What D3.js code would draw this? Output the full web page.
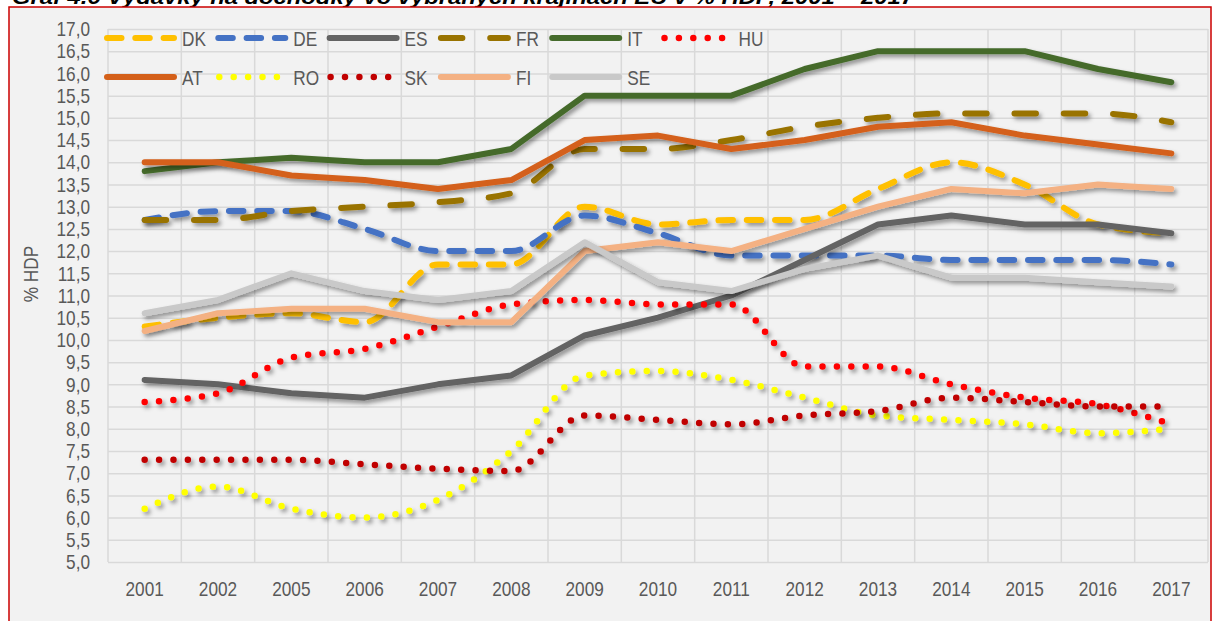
<html>
<head>
<title>Graf 4.6</title>
<script src="https://d3js.org/d3.v7.min.js"></script>
<style>
body { margin: 0; background: #fff; }
text { font-family: "Liberation Sans", Arial, sans-serif; fill: #595959; }
</style>
</head>
<body>
<div id="plot"></div>

<script>

var width = 1215;
var height = 621;

var years = ["2001","2002","2005","2006","2007","2008","2009","2010","2011","2012","2013","2014","2015","2016","2017"];

var DK = [10.3,10.5,10.6,10.4,11.7,11.7,13.0,12.6,12.7,12.7,13.4,14.0,13.5,12.6,12.4];
var DE = [12.7,12.9,12.9,12.5,12.0,12.0,12.8,12.4,11.9,11.9,11.9,11.8,11.8,11.8,11.7];
var ES = [9.1,9.0,8.8,8.7,9.0,9.2,10.1,10.5,11.0,11.8,12.6,12.8,12.6,12.6,12.4];
var FR = [12.7,12.7,12.9,13.0,13.1,13.3,14.3,14.3,14.5,14.8,15.0,15.1,15.1,15.1,14.9];
var IT = [13.8,14.0,14.1,14.0,14.0,14.3,15.5,15.5,15.5,16.1,16.5,16.5,16.5,16.1,15.8];
var HU = [8.6,8.8,9.6,9.8,10.3,10.8,10.9,10.8,10.8,9.4,9.4,9.0,8.7,8.55,8.1];
var AT = [14.0,14.0,13.7,13.6,13.4,13.6,14.5,14.6,14.3,14.5,14.8,14.9,14.6,14.4,14.2];
var RO = [6.2,6.7,6.2,6.0,6.4,7.5,9.2,9.3,9.1,8.7,8.3,8.2,8.1,7.9,8.0];
var SK = [7.3,7.3,7.3,7.2,7.1,7.05,8.3,8.2,8.1,8.3,8.4,8.7,8.6,8.5,8.5];
var FI = [10.2,10.6,10.7,10.7,10.4,10.4,12.0,12.2,12.0,12.5,13.0,13.4,13.3,13.5,13.4];
var SE = [10.6,10.9,11.5,11.1,10.9,11.1,12.2,11.3,11.1,11.6,11.9,11.4,11.4,11.3,11.2];

var yTicks = d3.range(5, 17.01, 0.5);

// series in legend / drawing order; style = solid, dash, longdash, dot
var series = [
	{ name: "DK", values: DK, color: "#ffc000", style: "dash" },
	{ name: "DE", values: DE, color: "#4472c4", style: "dash" },
	{ name: "ES", values: ES, color: "#636363", style: "solid" },
	{ name: "FR", values: FR, color: "#997300", style: "longdash" },
	{ name: "IT", values: IT, color: "#456b2c", style: "solid" },
	{ name: "HU", values: HU, color: "#ff0000", style: "dot" },
	{ name: "AT", values: AT, color: "#d4601a", style: "solid" },
	{ name: "RO", values: RO, color: "#ffff00", style: "dot" },
	{ name: "SK", values: SK, color: "#c00000", style: "dot" },
	{ name: "FI", values: FI, color: "#f4b183", style: "solid" },
	{ name: "SE", values: SE, color: "#c9c9c9", style: "solid" }
];

var dashes = { solid: null, dash: "14.5,13.8", longdash: "21.5,27.8", dot: "0,14.4" };
var lineWidth = 6;
var fontSize = "21px";
// Arial Narrow look: regular sans squeezed horizontally
var narrow = 0.82;

var svg = d3.select("#plot").append("svg").attr("width", width).attr("height", height);

var filter = svg.append("defs").append("filter").attr("id", "shadow")
.attr("x", "-5%").attr("y", "-20%").attr("width", "110%").attr("height", "140%");
filter.append("feDropShadow").attr("dx", 2.5).attr("dy", 3).attr("stdDeviation", 2)
.attr("flood-color", "#000").attr("flood-opacity", 0.4);

// title, cut off at the top edge as in the original
svg.append("text")
.attr("x", 12).attr("y", 4)
.attr("textLength", 902).attr("lengthAdjust", "spacingAndGlyphs")
.style("font-weight", "bold").style("font-style", "italic")
.style("font-size", "20px").style("fill", "#000")
.text("Graf 4.6 Výdavky na dôchodky vo vybraných krajinách EÚ v % HDP, 2001 – 2017");

svg.append("rect")
.attr("x", 9).attr("y", 7).attr("width", 1202).attr("height", 700)
.style("fill", "#f2f2f2").style("stroke", "#cc0000").style("stroke-width", 1.5);

var xScale = d3.scaleBand().domain(years).range([108, 1208]);
var yScale = d3.scaleLinear().domain([5, 17]).range([562, 29]);
var cx = function (year) { return xScale(year) + xScale.bandwidth() / 2; };

var locale = d3.formatLocale({ decimal: ",", thousands: " ", grouping: [3], currency: ["", " €"] });
var fmt = locale.format(".1f");

// horizontal grid + y labels
var yAxis = svg.append("g").attr("transform", "translate(108,0)")
.call(d3.axisLeft(yScale).tickValues(yTicks).tickFormat(fmt).tickSize(-1100).tickPadding(18));
yAxis.select(".domain").remove();
yAxis.selectAll("line").style("stroke", "#d9d9d9").style("stroke-width", 1.5);
yAxis.selectAll("text")
.attr("x", -18 / narrow)
.attr("transform", "scale(" + narrow + ",1)")
.style("font-size", fontSize).style("fill", "#595959");

// vertical grid at category boundaries
svg.append("g").selectAll("line")
.data(d3.range(years.length + 1))
.enter().append("line")
.attr("x1", function (i) { return 108 + i * xScale.step(); })
.attr("x2", function (i) { return 108 + i * xScale.step(); })
.attr("y1", yScale(17)).attr("y2", yScale(5))
.style("stroke", "#d9d9d9").style("stroke-width", 1.5);

var xAxis = svg.append("g").attr("transform", "translate(0,562)")
.call(d3.axisBottom(xScale).tickSize(0).tickPadding(19));
xAxis.select(".domain").remove();
xAxis.selectAll("text")
.attr("transform", "scale(" + narrow + ",1)")
.style("font-size", fontSize).style("fill", "#595959");

svg.append("text")
.attr("transform", "translate(38,274) rotate(-90) scale(" + narrow + ",1)")
.attr("text-anchor", "middle")
.style("font-size", fontSize)
.text("% HDP");

// lines: solid ones straight, dashed and dotted ones smoothed
var line = function (s) {
	var curve = s.style == "solid" ? d3.curveLinear : d3.curveMonotoneX;
	return d3.line()
	.x(function (d, i) { return cx(years[i]); })
	.y(function (d) { return yScale(d); })
	.curve(curve)(s.values);
};

svg.append("g").selectAll("path")
.data(series)
.enter().append("path")
.attr("d", line)
.attr("filter", "url(#shadow)")
.style("fill", "none")
.style("stroke", function (s) { return s.color; })
.style("stroke-width", function (s) { return s.style == "dot" ? 6.5 : lineWidth; })
.style("stroke-linecap", "round")
.style("stroke-linejoin", "round")
.style("stroke-dasharray", function (s) { return dashes[s.style]; });

// legend: two rows
var legend = svg.append("g").selectAll("g")
.data(series)
.enter().append("g")
.attr("transform", function (s, i) {
	var row = i < 6 ? 0 : 1;
	var col = i < 6 ? i : i - 6;
	return "translate(" + (104 + col * 111.3) + "," + (row == 0 ? 38 : 77) + ")";
});

legend.append("line")
.attr("x1", function (s) { return s.style == "dot" ? 4 : 3; })
.attr("x2", function (s) { return s.style == "dot" ? 62 : 70; })
.attr("y1", 0).attr("y2", 0)
.style("stroke", function (s) { return s.color; })
.style("stroke-width", function (s) { return s.style == "dot" ? 6.5 : lineWidth; })
.style("stroke-linecap", "round")
.style("stroke-dasharray", function (s) { return dashes[s.style]; });

legend.append("text")
.attr("transform", "translate(78,0) scale(" + narrow + ",1)")
.attr("dy", "0.36em")
.style("font-size", fontSize)
.text(function (s) { return s.name; });

</script>
</body>
</html>
